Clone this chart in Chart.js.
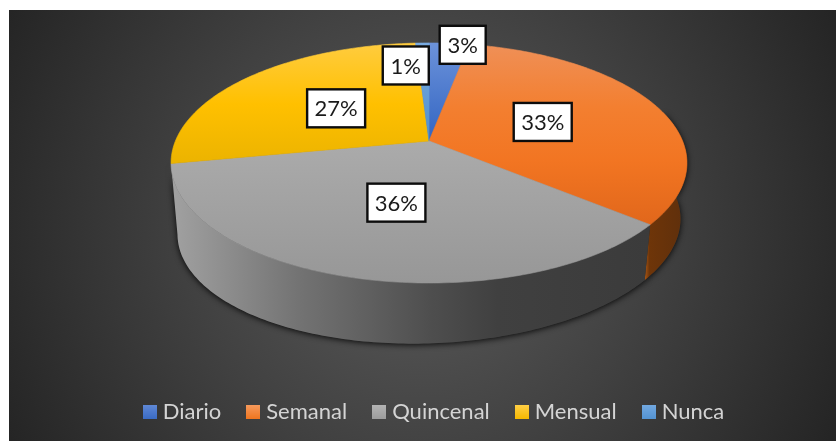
<!DOCTYPE html>
<html>
<head>
<meta charset="utf-8">
<script src="https://cdn.jsdelivr.net/npm/chart.js@4"></script>
<style>
html,body{margin:0;padding:0;background:#fff;overflow:hidden}
canvas{display:block}
</style>
</head>
<body>
<canvas id="chart" width="836" height="441"></canvas>
<script>
// Frequency shares for the tilted pie
const categories = ['Diario', 'Semanal', 'Quincenal', 'Mensual', 'Nunca'];
const shares = [3, 33, 36, 27, 1];
const swatchColors = [
  ['#5f88d6', '#3a6bc4'],
  ['#f79a5c', '#f0751f'],
  ['#b4b4b4', '#9c9c9c'],
  ['#ffcf45', '#f5b800'],
  ['#72a8e0', '#5393d3']
];
const faceStops = [
  [[0, '#6c92da'], [1, '#3265c2']],
  [[0, '#ef9058'], [0.35, '#f37f30'], [0.65, '#f27522'], [1, '#e1671b']],
  [[0, '#ababab'], [1, '#979797']],
  [[0, '#ffcc3f'], [0.5, '#ffc000'], [1, '#ebb300']],
  [[0, '#79abe1'], [1, '#4f90cd']]
];
const faceSpans = [141, 225, 283, 165, 141];
const semanalWall = [[0, '#b05a16'], [0.12, '#6e3509'], [1, '#5e2f0c']];
const quincenalWall = [[0, '#a0a0a0'], [0.26, '#737373'], [0.54, '#4e4e4e'], [0.68, '#404040'], [1, '#3b3b3b']];

// Camera used to tilt the disc: a perspective divide on the depth axis
const view = { cx: 429, cy: 141, a: 253.6, b: 116, k: 0.183, baseY: 205, baseScale: 0.975, baseShear: 0.03 };
const labelBox = { height: 38, radius: 0.5 };
const labelNudges = [[13.5, 1.5], [-2, 0], [2, 0], [2, 1], [-16.5, 22.5]];

function project(angle, r, floor) {
  const u = r * Math.cos(angle), v = r * Math.sin(angle);
  const d = 1 - view.k * v;
  const s = floor ? view.baseScale : 1;
  const x = s * view.a * u / d;
  const y = s * view.b * v / d;
  return floor ? [view.cx + x, view.baseY + y - view.baseShear * x] : [view.cx + x, view.cy + y];
}

function gradient(ctx, x0, y0, x1, y1, stops) {
  const g = ctx.createLinearGradient(x0, y0, x1, y1);
  stops.forEach(s => g.addColorStop(s[0], s[1]));
  return g;
}

function traceWall(ctx, lo, hi) {
  const steps = Math.ceil((hi - lo) * 60);
  ctx.beginPath();
  for (let s = 0; s <= steps; s++) {
    const p = project(lo + (hi - lo) * s / steps, 1, false);
    s ? ctx.lineTo(p[0], p[1]) : ctx.moveTo(p[0], p[1]);
  }
  for (let s = steps; s >= 0; s--) {
    const p = project(lo + (hi - lo) * s / steps, 1, true);
    ctx.lineTo(p[0], p[1]);
  }
  ctx.closePath();
}

const backdrop = {
  id: 'backdrop',
  beforeDraw(chart) {
    const ctx = chart.ctx;
    ctx.save();
    const g = ctx.createRadialGradient(420, 225, 0, 420, 225, 470);
    g.addColorStop(0, '#5c5c5c');
    g.addColorStop(0.5, '#414141');
    g.addColorStop(1, '#242424');
    ctx.fillStyle = g;
    ctx.fillRect(9, 10, 827, 431);
    ctx.restore();
  }
};

const tiltedPie = {
  id: 'tiltedPie',
  beforeDatasetsDraw(chart) {
    const ctx = chart.ctx;
    const arcs = chart.getDatasetMeta(0).data;
    const semanal = arcs[1], quincenal = arcs[2];
    ctx.save();

    // Walls with a soft shadow hugging the base of the cylinder
    const seamX = project(semanal.endAngle, 1, false)[0] - 6;
    const walls = [
      { lo: -0.25, hi: semanal.endAngle, fill: gradient(ctx, seamX, 0, 687, 0, semanalWall) },
      { lo: quincenal.startAngle, hi: quincenal.endAngle, fill: gradient(ctx, 175, 0, 650, 0, quincenalWall) }
    ];
    walls.forEach(w => {
      ctx.save();
      ctx.shadowColor = 'rgba(0,0,0,0.9)';
      ctx.shadowBlur = 6;
      ctx.shadowOffsetY = 1;
      ctx.fillStyle = '#333';
      traceWall(ctx, w.lo, w.hi);
      ctx.fill();
      ctx.restore();
    });
    walls.forEach(w => {
      ctx.fillStyle = w.fill;
      traceWall(ctx, w.lo, w.hi);
      ctx.fill();
    });

    // Top faces of the slices
    arcs.forEach((arc, i) => {
      const fill = gradient(ctx, 0, i === 2 ? 141 : 43, 0, faceSpans[i], faceStops[i]);
      ctx.fillStyle = fill;
      ctx.strokeStyle = fill;
      ctx.lineWidth = 0.6;
      ctx.beginPath();
      ctx.moveTo(view.cx, view.cy);
      const steps = Math.max(4, Math.ceil((arc.endAngle - arc.startAngle) * 60));
      for (let s = 0; s <= steps; s++) {
        const p = project(arc.startAngle + (arc.endAngle - arc.startAngle) * s / steps, 1, false);
        ctx.lineTo(p[0], p[1]);
      }
      ctx.closePath();
      ctx.fill();
      ctx.stroke();
    });
    ctx.restore();
    return false;
  },
  afterDraw(chart) {
    const ctx = chart.ctx;
    const arcs = chart.getDatasetMeta(0).data;
    ctx.save();
    ctx.font = '22px Lato';
    ctx.textAlign = 'center';
    ctx.textBaseline = 'middle';
    arcs.forEach((arc, i) => {
      const text = shares[i] + '%';
      const far = shares[i] < 5 ? 1 : labelBox.radius;
      const p = project((arc.startAngle + arc.endAngle) / 2, far, false);
      const x = p[0] + labelNudges[i][0], y = p[1] + labelNudges[i][1];
      const w = shares[i] < 10 ? 46 : 58;
      ctx.fillStyle = '#fff';
      ctx.strokeStyle = '#0c0c0c';
      ctx.lineWidth = 2.4;
      ctx.fillRect(x - w / 2, y - labelBox.height / 2, w, labelBox.height);
      ctx.strokeRect(x - w / 2, y - labelBox.height / 2, w, labelBox.height);
      ctx.fillStyle = '#1a1a1a';
      ctx.fillText(text, x, y + 1);
    });
    ctx.restore();
  }
};

function swatch(stops) {
  const c = document.createElement('canvas');
  c.width = 14; c.height = 14;
  const x = c.getContext('2d');
  x.fillStyle = gradient(x, 0, 0, 0, 14, stops.map((col, i) => [i, col]));
  x.fillRect(0, 0, 14, 14);
  return c;
}

new Chart(document.getElementById('chart'), {
  type: 'pie',
  data: {
    labels: categories,
    datasets: [{ data: shares, backgroundColor: swatchColors.map(c => c[1]), borderWidth: 0 }]
  },
  options: {
    responsive: false,
    animation: false,
    layout: { padding: { bottom: 8, left: 36 } },
    plugins: {
      tooltip: { enabled: false },
      legend: {
        position: 'bottom',
        labels: {
          color: '#d4d4d4',
          font: { family: 'Lato', size: 22 },
          usePointStyle: true,
          pointStyleWidth: 4,
          boxHeight: 14,
          padding: 30,
          generateLabels(chart) {
            return Chart.overrides.pie.plugins.legend.labels.generateLabels(chart).map((item, i) => {
              item.pointStyle = swatch(swatchColors[i]);
              return item;
            });
          }
        }
      }
    }
  },
  plugins: [backdrop, tiltedPie]
});
</script>
</body>
</html>
